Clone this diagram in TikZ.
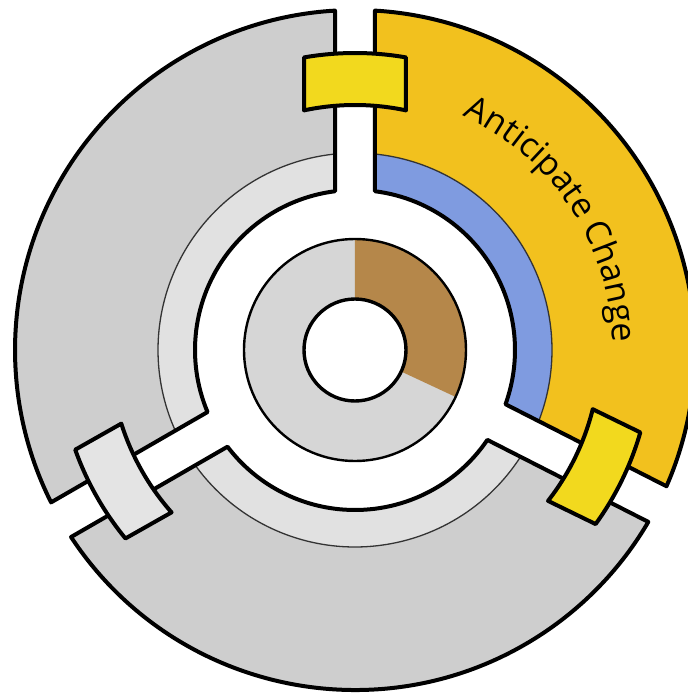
\documentclass[tikz,border=0pt]{standalone}
\usepackage{fontspec}
\setmainfont{Open Sans}
\usetikzlibrary{decorations.text}
\definecolor{sectgrey}{HTML}{CECECE}
\definecolor{bandgrey}{HTML}{E1E1E1}
\definecolor{innergrey}{HTML}{D6D6D6}
\definecolor{ringbrown}{HTML}{B5874A}
\definecolor{sectyellow}{HTML}{F2C11E}
\definecolor{bandblue}{HTML}{7F9BE0}
\definecolor{tabyellow}{HTML}{F2D91E}
\definecolor{tabgrey}{HTML}{E4E4E4}
\tikzset{
  thickline/.style={draw=black, line width=4pt, line join=round},
  thinline/.style={draw=black!80, line width=1.3pt},
}
\newcommand\mysector[4]{%
  \pgfmathsetmacro\secAo{#1+asin(20/340)}%
  \pgfmathsetmacro\secBo{#2-asin(20/340)}%
  \pgfmathsetmacro\secAm{#1+asin(20/197)}%
  \pgfmathsetmacro\secBm{#2-asin(20/197)}%
  \pgfmathsetmacro\secAi{#1+asin(20/160)}%
  \pgfmathsetmacro\secBi{#2-asin(20/160)}%
  \fill[#3] (\secAo:340pt) arc[start angle=\secAo, end angle=\secBo, radius=340pt]
     -- (\secBm:197pt) arc[start angle=\secBm, end angle=\secAm, radius=197pt] -- cycle;
  \fill[#4] (\secAm:197pt) arc[start angle=\secAm, end angle=\secBm, radius=197pt]
     -- (\secBi:160pt) arc[start angle=\secBi, end angle=\secAi, radius=160pt] -- cycle;
  \draw[thinline] (\secAm:197pt) arc[start angle=\secAm, end angle=\secBm, radius=197pt];
  \draw[thickline] (\secAo:340pt) arc[start angle=\secAo, end angle=\secBo, radius=340pt]
     -- (\secBi:160pt) arc[start angle=\secBi, end angle=\secAi, radius=160pt] -- cycle;
}
\newcommand\mytab[2]{%
  \pgfmathsetmacro\tabAo{#1+asin(51/297)}%
  \pgfmathsetmacro\tabBo{#1-asin(51/297)}%
  \pgfmathsetmacro\tabAi{#1+asin(51/245)}%
  \pgfmathsetmacro\tabBi{#1-asin(51/245)}%
  \draw[thickline, fill=#2] (\tabAo:297pt) arc[start angle=\tabAo, end angle=\tabBo, radius=297pt]
     -- (\tabBi:245pt) arc[start angle=\tabBi, end angle=\tabAi, radius=245pt] -- cycle;
}
\begin{document}
\begin{tikzpicture}
\useasboundingbox (-355pt,-347pt) rectangle (333pt,350pt);
\clip (-355pt,-347pt) rectangle (333pt,350pt);
% outer sectors
\mysector{90}{210}{sectgrey}{bandgrey}
\mysector{210}{333}{sectgrey}{bandgrey}
\mysector{-27}{90}{sectyellow}{bandblue}
% tabs
\mytab{90}{tabyellow}
\mytab{209.5}{tabgrey}
\mytab{-26}{tabyellow}
% inner ring
\fill[innergrey] (0,0) circle[radius=111pt];
\fill[ringbrown] (0,0) -- (90:111pt) arc[start angle=90, end angle=-25, radius=111pt] -- cycle;
\draw[black, line width=2.4pt] (0,0) circle[radius=111pt];
\draw[black, line width=3.4pt, fill=white] (0,0) circle[radius=51pt];
% label
\path[decorate, decoration={text along path, text align=center,
   text={|\fontsize{34}{40}\selectfont|Anticipate Change}}]
   (70:258pt) arc[start angle=70, end angle=-3, radius=258pt];
\end{tikzpicture}
\end{document}
